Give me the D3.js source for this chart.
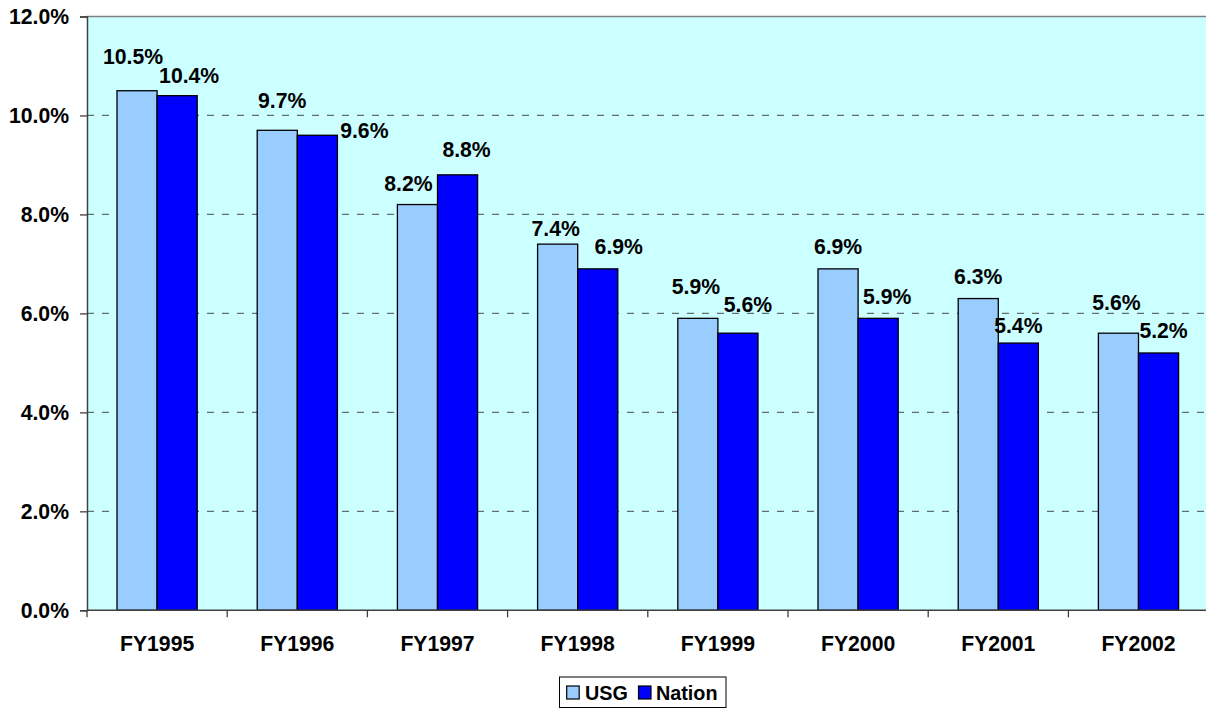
<!DOCTYPE html>
<html>
<head>
<meta charset="utf-8">
<script src="https://cdn.jsdelivr.net/npm/d3@7"></script>
<style>
  body { margin: 0; background: #fff; }
  svg { display: block; font-family: Arial, "Liberation Sans", sans-serif; font-weight: bold; }
</style>
</head>
<body>
<svg id="chart" width="1206" height="709"></svg>
<script>
const categories = ["FY1995", "FY1996", "FY1997", "FY1998", "FY1999", "FY2000", "FY2001", "FY2002"];
const seriesNames = ["USG", "Nation"];
const usgValues = [10.5, 9.7, 8.2, 7.4, 5.9, 6.9, 6.3, 5.6];
const nationValues = [10.4, 9.6, 8.8, 6.9, 5.6, 5.9, 5.4, 5.2];
const yTicks = [0, 2, 4, 6, 8, 10, 12];

// hand-placed label nudges from the original (dx, dy from default spot)
const labelNudge = {
    USG:    [[-4, -12], [5, -8], [-9, 1], [-2, 6], [-2, -10], [0, 0], [0, 0], [-2, -9]],
    Nation: [[12, 2], [47, 17], [9, -3], [21, 0], [10, -7], [9, 0], [0, 4], [5, 0]]
};

const colors = { USG: "#99CCFF", Nation: "#0000FF" };

const rows = categories.map((c, i) => ({ cat: c, USG: usgValues[i], Nation: nationValues[i] }));

const plotLeft = 87, plotTop = 16.5, plotBottom = 610.3, plotRight = 1206;
const step = 140.2;
const fontSize = 21.2;

const svg = d3.select("#chart");

const x = d3.scaleBand()
    .domain(categories)
    .range([plotLeft, plotLeft + step * categories.length])
    .paddingInner(60 / step)
    .paddingOuter(30 / step);

const xs = d3.scaleBand()
    .domain(seriesNames)
    .range([0, x.bandwidth()]);

const y = d3.scaleLinear()
    .domain([0, 12])
    .range([plotBottom, plotTop]);

// plot background
svg.append("rect")
    .attr("x", plotLeft)
    .attr("y", plotTop)
    .attr("width", plotRight - plotLeft)
    .attr("height", plotBottom - plotTop)
    .attr("fill", "#CCFFFF");

// top border
svg.append("line")
    .attr("x1", plotLeft).attr("x2", plotRight)
    .attr("y1", y(12)).attr("y2", y(12))
    .attr("stroke", "#808080")
    .attr("stroke-width", 1.5);

// dashed grid
svg.append("g")
    .selectAll("line")
    .data(yTicks.filter(d => d > 0 && d < 12))
    .join("line")
    .attr("x1", plotLeft).attr("x2", plotRight)
    .attr("y1", d => y(d)).attr("y2", d => y(d))
    .attr("stroke", "#607070")
    .attr("stroke-width", 1.3)
    .attr("stroke-dasharray", "7,8");

// bars
const groups = svg.append("g")
    .selectAll("g")
    .data(rows)
    .join("g")
    .attr("transform", d => `translate(${x(d.cat)},0)`);

groups.selectAll("rect")
    .data(d => seriesNames.map(s => ({ s, v: d[s] })))
    .join("rect")
    .attr("x", d => xs(d.s))
    .attr("y", d => y(d.v))
    .attr("width", xs.bandwidth())
    .attr("height", d => y(0) - y(d.v))
    .attr("fill", d => colors[d.s])
    .attr("stroke", "#000")
    .attr("stroke-width", 1.3);

// data labels
groups.selectAll("text")
    .data((d, i) => seriesNames.map(s => ({ s, v: d[s], i })))
    .join("text")
    .attr("x", d => xs(d.s) + xs.bandwidth() / 2 + labelNudge[d.s][d.i][0])
    .attr("y", d => y(d.v) - 14.5 + labelNudge[d.s][d.i][1])
    .attr("text-anchor", "middle")
    .attr("font-size", fontSize)
    .attr("fill", "#000")
    .text(d => d.v.toFixed(1) + "%");

// y axis
const yAxis = svg.append("g")
    .attr("transform", `translate(${plotLeft},0)`)
    .call(d3.axisLeft(y)
        .tickValues(yTicks)
        .tickSize(7)
        .tickPadding(11)
        .tickFormat(d => d.toFixed(1) + "%"));
yAxis.select(".domain").attr("stroke", "#404040").attr("stroke-width", 1.5);
yAxis.selectAll(".tick line").attr("stroke", "#404040").attr("stroke-width", 1.3);
yAxis.selectAll(".tick text")
    .attr("font-size", fontSize)
    .attr("font-family", "Arial, 'Liberation Sans', sans-serif")
    .attr("font-weight", "bold")
    .attr("fill", "#000");

// x axis: ticks at category boundaries
const edge = (x.step() - x.bandwidth()) / 2;
const boundaries = categories.map(c => x(c) - edge).concat([x(categories[categories.length - 1]) + x.bandwidth() + edge]);

svg.append("line")
    .attr("x1", plotLeft).attr("x2", plotRight)
    .attr("y1", y(0)).attr("y2", y(0))
    .attr("stroke", "#404040")
    .attr("stroke-width", 1.5);

svg.append("g")
    .selectAll("line")
    .data(boundaries)
    .join("line")
    .attr("x1", d => d).attr("x2", d => d)
    .attr("y1", y(0)).attr("y2", y(0) + 7)
    .attr("stroke", "#404040")
    .attr("stroke-width", 1.3);

svg.append("g")
    .selectAll("text")
    .data(categories)
    .join("text")
    .attr("x", d => x(d) + x.bandwidth() / 2)
    .attr("y", 650.7)
    .attr("text-anchor", "middle")
    .attr("font-size", fontSize)
    .text(d => d);

// legend
const legend = svg.append("g");
legend.append("rect")
    .attr("x", 559.5).attr("y", 677)
    .attr("width", 166.5).attr("height", 30.5)
    .attr("fill", "#fff")
    .attr("stroke", "#000")
    .attr("stroke-width", 1);

const legendItems = [
    { s: "USG", sx: 566.7, tx: 585 },
    { s: "Nation", sx: 638.5, tx: 656 }
];
legend.selectAll("rect.key")
    .data(legendItems)
    .join("rect")
    .attr("class", "key")
    .attr("x", d => d.sx).attr("y", 686)
    .attr("width", 12.5).attr("height", 13)
    .attr("fill", d => colors[d.s])
    .attr("stroke", "#000")
    .attr("stroke-width", 1.2);
legend.selectAll("text")
    .data(legendItems)
    .join("text")
    .attr("x", d => d.tx).attr("y", 699.5)
    .attr("font-size", 19.8)
    .text(d => d.s);
</script>
</body>
</html>
